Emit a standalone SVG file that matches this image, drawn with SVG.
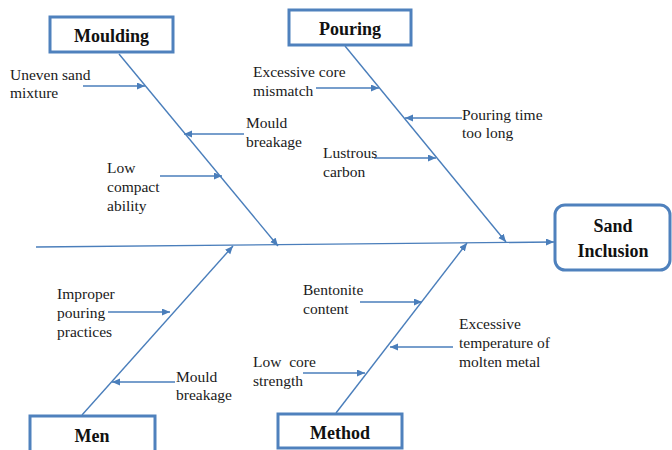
<svg xmlns="http://www.w3.org/2000/svg" width="672" height="450" viewBox="0 0 672 450">
<defs>
<marker id="ah" markerUnits="userSpaceOnUse" markerWidth="9" markerHeight="8" refX="8" refY="3.5" orient="auto">
<path d="M0,0 L8,3.5 L0,7 z" fill="#4A7EBB"/>
</marker>
<style>
.box{fill:#fff;stroke:#4F81BD;stroke-width:3}
.hd{font-family:"Liberation Serif","Times New Roman",serif;font-weight:bold;font-size:18px;fill:#111;text-anchor:middle}
.lb{font-family:"Liberation Serif","Times New Roman",serif;font-size:15.5px;fill:#1a1a1a}
.ln{stroke:#4A7EBB;stroke-width:1.4;fill:none}
.ar{stroke:#4A7EBB;stroke-width:1.4;fill:none;marker-end:url(#ah)}
</style>
</defs>
<rect width="672" height="450" fill="#fff"/>
<g id="connectors">
<line class="ar" x1="36" y1="247" x2="554" y2="242"/>
<line class="ar" x1="119" y1="54" x2="278" y2="246"/>
<line class="ar" x1="345" y1="46" x2="506" y2="242"/>
<line class="ar" x1="82" y1="415" x2="233" y2="246"/>
<line class="ar" x1="336" y1="413" x2="467" y2="243"/>
<line class="ar" x1="83" y1="86" x2="145" y2="86"/>
<line class="ar" x1="244" y1="134" x2="184" y2="134"/>
<line class="ar" x1="160" y1="176" x2="222" y2="176"/>
<line class="ar" x1="316" y1="88" x2="379" y2="88"/>
<line class="ar" x1="462" y1="118" x2="405" y2="118"/>
<line class="ar" x1="374" y1="158" x2="436" y2="158"/>
<line class="ar" x1="108" y1="312" x2="170" y2="312"/>
<line class="ar" x1="175" y1="382" x2="112" y2="382"/>
<line class="ar" x1="360" y1="302" x2="422" y2="302"/>
<line class="ar" x1="453" y1="347" x2="390" y2="347"/>
<line class="ar" x1="303" y1="373" x2="365" y2="373"/>
</g>
<g id="moulding">
<rect class="box" x="50" y="17" width="123" height="35"/>
<text class="hd" x="111.5" y="42">Moulding</text>
</g>
<g id="pouring">
<rect class="box" x="289" y="10" width="122" height="35"/>
<text class="hd" x="350" y="35">Pouring</text>
</g>
<g id="sand-inclusion">
<rect class="box" x="555" y="205" width="115" height="65" rx="10"/>
<text class="hd" x="613" y="232">Sand</text>
<text class="hd" x="613" y="257">Inclusion</text>
</g>
<g id="men">
<rect class="box" x="30" y="416" width="125" height="40"/>
<text class="hd" x="92" y="442">Men</text>
</g>
<g id="method">
<rect class="box" x="278" y="414" width="124" height="34"/>
<text class="hd" x="340" y="439">Method</text>
</g>
<g id="labels">
<text class="lb" x="10" y="80">Uneven sand</text>
<text class="lb" x="10" y="98">mixture</text>
<text class="lb" x="246" y="128">Mould</text>
<text class="lb" x="246" y="147">breakage</text>
<text class="lb" x="107" y="173">Low</text>
<text class="lb" x="107" y="192">compact</text>
<text class="lb" x="107" y="211">ability</text>
<text class="lb" x="253" y="77">Excessive core</text>
<text class="lb" x="253" y="96">mismatch</text>
<text class="lb" x="462" y="120">Pouring time</text>
<text class="lb" x="462" y="138">too long</text>
<text class="lb" x="323" y="158">Lustrous</text>
<text class="lb" x="323" y="177">carbon</text>
<text class="lb" x="57" y="299">Improper</text>
<text class="lb" x="57" y="318">pouring</text>
<text class="lb" x="57" y="337">practices</text>
<text class="lb" x="176" y="382">Mould</text>
<text class="lb" x="176" y="400">breakage</text>
<text class="lb" x="303" y="295">Bentonite</text>
<text class="lb" x="303" y="314">content</text>
<text class="lb" x="459" y="329">Excessive</text>
<text class="lb" x="459" y="348">temperature of</text>
<text class="lb" x="459" y="367">molten metal</text>
<text class="lb" x="253" y="367" xml:space="preserve">Low  core</text>
<text class="lb" x="253" y="386">strength</text>
</g>
</svg>
